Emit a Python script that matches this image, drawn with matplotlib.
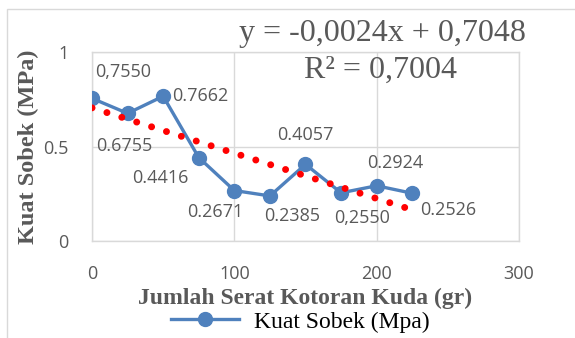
import matplotlib.pyplot as plt
from matplotlib.patches import Rectangle

# Data: amount of horse-dung fibre (gr) vs tear strength (MPa)
serat = [0, 25, 50, 75, 100, 125, 150, 175, 200, 225]
kuat_sobek = [0.7550, 0.6755, 0.7662, 0.4416, 0.2671, 0.2385, 0.4057, 0.2550, 0.2924, 0.2526]
label_teks = ['0,7550', '0.6755', '0.7662', '0.4416', '0.2671',
              '0.2385', '0.4057', '0,2550', '0.2924', '0.2526']

# linear trendline shown on the chart
slope = -0.0024
intercept = 0.7048
tren = [slope * x + intercept for x in serat]

grey = '#595959'
grid_c = '#D9D9D9'
blue = '#4F81BD'

fig = plt.figure(figsize=(5.75, 3.38), dpi=100)
ax = fig.add_axes([0.16, 0.287, 0.7426, 0.559])

# outer chart border
fig.patches.append(Rectangle((7 / 575, -0.05), 1.2, 1 - 9 / 338 + 0.05,
                             transform=fig.transFigure, fill=False,
                             edgecolor=grid_c, linewidth=1))

# data series
ax.plot(serat, kuat_sobek, color=blue, linewidth=2.4, marker='o',
        markersize=10, label='Kuat Sobek (Mpa)', zorder=3)

# trendline (red dotted), drawn over the series like Excel does
ax.plot(serat, tren, color='#FF0000', linestyle=(0, (0.01, 2.24)),
        linewidth=5, dash_capstyle='round', zorder=3.5)

# data labels: offsets in pixels (dx, dy, ha)
offsets = [(31, 26, 'center'), (-3, -33, 'center'), (9, 0, 'left'),
           (-38, -20, 'center'), (-19, -21, 'center'), (22, -20, 'center'),
           (0, 29, 'center'), (21, -25, 'center'), (19, 23, 'center'),
           (8, -17, 'left')]
for x, y, t, (dx, dy, ha) in zip(serat, kuat_sobek, label_teks, offsets):
    ax.annotate(t, (x, y), xytext=(dx, dy), textcoords='offset pixels',
                ha=ha, va='center', fontsize=13, color=grey,
                family='Open Sans', zorder=4)

ax.set_xlim(0, 300)
ax.set_ylim(0, 1)
ax.set_xticks([0, 100, 200, 300])
ax.set_yticks([0, 0.5, 1])
ax.set_yticklabels(['0', '0.5', '1'])
ax.tick_params(length=0, pad=17, labelsize=13, labelcolor=grey)
for lab in ax.get_xticklabels() + ax.get_yticklabels():
    lab.set_family('Open Sans')
ax.grid(True, color=grid_c, linewidth=1)
ax.set_axisbelow(True)
for s in ax.spines.values():
    s.set_color(grid_c)
    s.set_linewidth(1)

ax.set_xlabel('Jumlah Serat Kotoran Kuda (gr)', family='Liberation Serif',
              fontweight='bold', fontsize=17, color=grey, labelpad=4)
ax.set_ylabel('Kuat Sobek (MPa)', family='Liberation Serif',
              fontweight='bold', fontsize=17.5, color=grey, labelpad=3)

# trendline equation
fig.text(382 / 575, 1 - 33 / 338, 'y = -0,0024x + 0,7048', ha='center',
         va='center', family='Liberation Serif', fontsize=23, color=grey)
fig.text(381 / 575, 1 - 70 / 338, 'R² = 0,7004', ha='center',
         va='center', family='Liberation Serif', fontsize=23, color=grey)

leg = fig.legend(loc='center', bbox_to_anchor=(300 / 575, 1 - 322 / 338),
                 frameon=False, handlelength=2.9, handletextpad=0.6,
                 prop={'family': 'Liberation Serif', 'size': 17},
                 borderpad=0, borderaxespad=0)

fig.savefig('out.png', dpi=100)
